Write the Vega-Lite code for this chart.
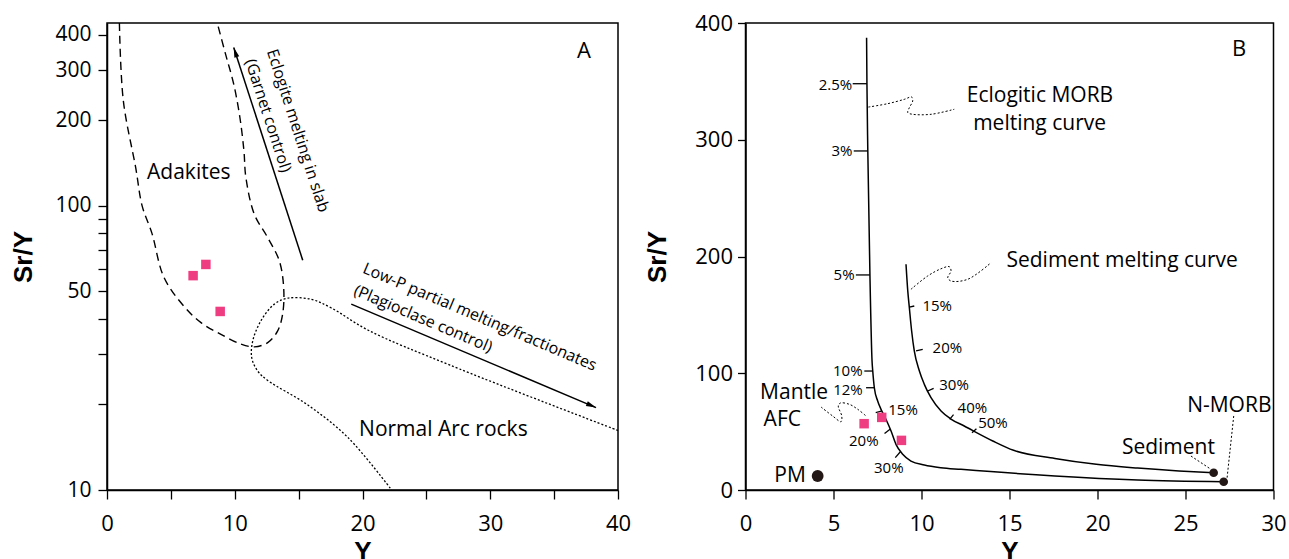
{
  "$schema": "https://vega.github.io/schema/vega-lite/v6.json",
  "padding": {"left": 10, "top": 11, "right": 0, "bottom": 0},
  "background": "white",
  "bounds": "flush",
  "spacing": 127.5,
  "config": {
    "view": {"stroke": "black", "strokeWidth": 1.5},
    "axis": {"grid": false, "domainColor": "black", "domainWidth": 1.5, "tickColor": "black", "tickWidth": 1.3, "labelColor": "black", "labelFont": "Open Sans", "titleFont": "Liberation Sans", "titleFontWeight": "bold", "titleFontSize": 26, "titleColor": "black", "labelFlush": false, "labelOverlap": false},
    "text": {"font": "Open Sans", "color": "black", "baseline": "middle", "align": "center"}
  },
  "datasets": {
    "samples": [{"x": 6.74, "y": 56.8}, {"x": 7.74, "y": 62.2}, {"x": 8.86, "y": 42.5}],
    "adakite": [
      {"o": 1, "x": 0.97, "y": 440}, {"o": 2, "x": 1.28, "y": 234}, {"o": 3, "x": 2.25, "y": 136}, {"o": 4, "x": 2.75, "y": 100},
      {"o": 5, "x": 3.52, "y": 80}, {"o": 6, "x": 4.46, "y": 56}, {"o": 7, "x": 6.08, "y": 44}, {"o": 8, "x": 7.36, "y": 38.8},
      {"o": 9, "x": 8.92, "y": 35.3}, {"o": 10, "x": 10.49, "y": 32.6}, {"o": 11, "x": 11.53, "y": 31.9}, {"o": 12, "x": 12.58, "y": 33.0},
      {"o": 13, "x": 13.36, "y": 36.3}, {"o": 14, "x": 13.75, "y": 41.6}, {"o": 15, "x": 13.83, "y": 51.5}, {"o": 16, "x": 13.49, "y": 64.0},
      {"o": 17, "x": 12.58, "y": 77.3}, {"o": 18, "x": 11.53, "y": 93.5}, {"o": 19, "x": 10.87, "y": 126}, {"o": 20, "x": 10.72, "y": 156},
      {"o": 21, "x": 10.40, "y": 205}, {"o": 22, "x": 9.92, "y": 268}, {"o": 23, "x": 9.28, "y": 342}, {"o": 24, "x": 8.63, "y": 440}
    ],
    "arc": [
      {"o": 1, "x": 40, "y": 16.2}, {"o": 2, "x": 26.85, "y": 27.5}, {"o": 3, "x": 20.45, "y": 36.5}, {"o": 4, "x": 17.53, "y": 43.8},
      {"o": 5, "x": 15.97, "y": 46.9}, {"o": 6, "x": 14.15, "y": 47.3}, {"o": 7, "x": 13.10, "y": 45.1}, {"o": 8, "x": 12.05, "y": 39.4},
      {"o": 9, "x": 11.41, "y": 33.5}, {"o": 10, "x": 11.33, "y": 29.2}, {"o": 11, "x": 11.80, "y": 26.2}, {"o": 12, "x": 12.58, "y": 24.3},
      {"o": 13, "x": 15.66, "y": 20.0}, {"o": 14, "x": 18.86, "y": 15.3}, {"o": 15, "x": 22.28, "y": 10}
    ],
    "arrowsA": [
      {"id": "e", "o": 1, "x": 15.32, "y": 64.4}, {"id": "e", "o": 2, "x": 9.92, "y": 360.6},
      {"id": "p", "o": 1, "x": 19.12, "y": 45.1}, {"id": "p", "o": 2, "x": 38.28, "y": 19.5}
    ],
    "headE": [{"x": 9.92, "y": 360.6}],
    "headP": [{"x": 38.28, "y": 19.5}],
    "textA": [{"t": "Adakites", "x": 6.4, "y": 131}, {"t": "Normal Arc rocks", "x": 26.33, "y": 16.2}],
    "letterA": [{"t": "A", "x": 37.34, "y": 351.5}],
    "textE": [{"t": "Eclogite melting in slab", "x": 14.93, "y": 183.7}, {"t": "(Garnet control)", "x": 12.6, "y": 207.5}],
    "textP": [{"t": "Low-P partial melting/fractionates", "x": 29.17, "y": 40.6}, {"t": "(Plagioclase control)", "x": 24.74, "y": 40.0}],
    "morb": [
      {"x": 6.88, "y": 387.4}, {"x": 6.90, "y": 348}, {"x": 6.95, "y": 290}, {"x": 7.07, "y": 184}, {"x": 7.19, "y": 110.5},
      {"x": 7.23, "y": 101.9}, {"x": 7.32, "y": 87.6}, {"x": 7.51, "y": 76.2}, {"x": 7.70, "y": 69.1}, {"x": 7.98, "y": 60.6},
      {"x": 8.27, "y": 50.5}, {"x": 8.55, "y": 39.1}, {"x": 8.93, "y": 30.6}, {"x": 9.40, "y": 24.8}, {"x": 10.16, "y": 21.4},
      {"x": 11.1, "y": 19.1}, {"x": 12.24, "y": 17.7}, {"x": 17.58, "y": 12.0}, {"x": 22.28, "y": 8.57}, {"x": 27.17, "y": 7.1}
    ],
    "sediment": [
      {"x": 9.12, "y": 193.3}, {"x": 9.22, "y": 170.4}, {"x": 9.31, "y": 156.1}, {"x": 9.44, "y": 136.2}, {"x": 9.59, "y": 119.1},
      {"x": 9.88, "y": 101.9}, {"x": 10.16, "y": 90.5}, {"x": 10.54, "y": 79.1}, {"x": 11.11, "y": 67.7}, {"x": 11.65, "y": 61.0},
      {"x": 12.43, "y": 54.8}, {"x": 14.05, "y": 42.0}, {"x": 15.23, "y": 34.0}, {"x": 17.58, "y": 27.0}, {"x": 19.93, "y": 22.0},
      {"x": 22.28, "y": 18.8}, {"x": 24.63, "y": 16.3}, {"x": 26.6, "y": 14.8}
    ],
    "pticks": [
      {"x": 6.09, "y": 348, "x2": 6.90, "y2": 348}, {"x": 6.15, "y": 290.4, "x2": 6.95, "y2": 290.4},
      {"x": 6.27, "y": 184.2, "x2": 7.07, "y2": 184.2}, {"x": 6.75, "y": 101.9, "x2": 7.23, "y2": 101.9},
      {"x": 6.85, "y": 87.6, "x2": 7.32, "y2": 87.6}, {"x": 7.40, "y": 66.2, "x2": 7.72, "y2": 67.5},
      {"x": 7.90, "y": 48.4, "x2": 8.23, "y2": 52.2}, {"x": 8.51, "y": 27.7, "x2": 8.80, "y2": 32.8},
      {"x": 9.31, "y": 156.7, "x2": 9.59, "y2": 157.6}, {"x": 9.69, "y": 119.1, "x2": 10.07, "y2": 120.5},
      {"x": 10.35, "y": 84.8, "x2": 10.69, "y2": 87.1}, {"x": 11.60, "y": 60.5, "x2": 11.82, "y2": 64.5},
      {"x": 12.87, "y": 49.0, "x2": 13.12, "y2": 52.5}
    ],
    "plabels": [
      {"t": "2.5%", "x": 5.11, "y": 347}, {"t": "3%", "x": 5.48, "y": 290.4}, {"t": "5%", "x": 5.60, "y": 184.2},
      {"t": "10%", "x": 5.81, "y": 101.9}, {"t": "12%", "x": 5.82, "y": 85.4}, {"t": "15%", "x": 8.95, "y": 68.3},
      {"t": "20%", "x": 6.72, "y": 42}, {"t": "30%", "x": 8.14, "y": 18.6}, {"t": "15%", "x": 10.89, "y": 157.6},
      {"t": "20%", "x": 11.47, "y": 121.9}, {"t": "30%", "x": 11.85, "y": 89.9}, {"t": "40%", "x": 12.89, "y": 70.0},
      {"t": "50%", "x": 14.06, "y": 57.6}
    ],
    "leaders": [
      {"id": "m", "o": 1, "x": 6.98, "y": 328.0}, {"id": "m", "o": 2, "x": 8.08, "y": 330.9}, {"id": "m", "o": 3, "x": 9.02, "y": 334.6},
      {"id": "m", "o": 4, "x": 9.44, "y": 336.6}, {"id": "m", "o": 5, "x": 9.50, "y": 333.2}, {"id": "m", "o": 6, "x": 9.31, "y": 327.5},
      {"id": "m", "o": 7, "x": 9.22, "y": 323.2}, {"id": "m", "o": 8, "x": 9.50, "y": 321.8}, {"id": "m", "o": 9, "x": 10.54, "y": 321.8},
      {"id": "m", "o": 10, "x": 11.86, "y": 326.1},
      {"id": "s", "o": 1, "x": 9.40, "y": 171.9}, {"id": "s", "o": 2, "x": 10.35, "y": 183.3}, {"id": "s", "o": 3, "x": 11.11, "y": 189.5},
      {"id": "s", "o": 4, "x": 11.58, "y": 191.3}, {"id": "s", "o": 5, "x": 11.68, "y": 187.6}, {"id": "s", "o": 6, "x": 11.49, "y": 181.8},
      {"id": "s", "o": 7, "x": 11.68, "y": 179.0}, {"id": "s", "o": 8, "x": 12.63, "y": 180.5}, {"id": "s", "o": 9, "x": 13.95, "y": 194.7},
      {"id": "a", "o": 1, "x": 4.29, "y": 71.1}, {"id": "a", "o": 2, "x": 4.95, "y": 63.4}, {"id": "a", "o": 3, "x": 5.43, "y": 58.5},
      {"id": "a", "o": 4, "x": 5.47, "y": 63.4}, {"id": "a", "o": 5, "x": 5.27, "y": 71.9}, {"id": "a", "o": 6, "x": 5.39, "y": 74.5},
      {"id": "a", "o": 7, "x": 5.90, "y": 73.4}, {"id": "a", "o": 8, "x": 6.38, "y": 69.1}, {"id": "a", "o": 9, "x": 6.85, "y": 63.4},
      {"id": "d", "o": 1, "x": 25.31, "y": 29.1}, {"id": "d", "o": 2, "x": 26.45, "y": 17.7},
      {"id": "n", "o": 1, "x": 27.74, "y": 63.4}, {"id": "n", "o": 2, "x": 27.36, "y": 10.0}
    ],
    "endSmall": [{"x": 26.6, "y": 14.8}, {"x": 27.17, "y": 7.1}],
    "endPM": [{"x": 4.10, "y": 12.0}],
    "textB": [
      {"t": "Eclogitic MORB", "x": 16.73, "y": 337.5}, {"t": "melting curve", "x": 16.71, "y": 313.2},
      {"t": "Sediment melting curve", "x": 21.4, "y": 196.1}, {"t": "Mantle", "x": 2.76, "y": 83.4},
      {"t": "AFC", "x": 2.09, "y": 59.7}, {"t": "PM", "x": 2.53, "y": 12.0}, {"t": "N-MORB", "x": 27.49, "y": 71.9},
      {"t": "Sediment", "x": 24.03, "y": 36.2}
    ],
    "letterB": [{"t": "B", "x": 28.04, "y": 377.5}]
  },
  "hconcat": [
    {
      "width": 511,
      "height": 467,
      "encoding": {
        "x": {"field": "x", "type": "quantitative", "scale": {"domain": [0, 40], "nice": false, "zero": false},
          "axis": {"title": "Y", "values": [0, 5, 10, 15, 20, 25, 30, 35, 40], "labelExpr": "datum.value % 10 === 0 ? datum.label : ''", "labelFontSize": 22, "tickSize": 9, "labelPadding": 14, "titlePadding": 4}},
        "y": {"field": "y", "type": "quantitative", "scale": {"type": "log", "domain": [10, 440], "nice": false},
          "axis": {"title": "Sr/Y", "values": [10, 20, 30, 40, 50, 60, 70, 80, 90, 100, 200, 300, 400], "format": "d", "labelExpr": "indexof([10, 50, 100, 200, 300, 400], datum.value) >= 0 ? datum.label : ''", "labelFontSize": 21, "tickSize": 9, "labelPadding": 7, "titlePadding": 18}}
      },
      "layer": [
        {"data": {"name": "adakite"}, "mark": {"type": "line", "color": "black", "strokeWidth": 1.4, "strokeDash": [8, 5], "interpolate": "catmull-rom", "clip": true}, "encoding": {"order": {"field": "o", "type": "quantitative"}}},
        {"data": {"name": "arc"}, "mark": {"type": "line", "color": "black", "strokeWidth": 1.3, "strokeDash": [2, 2], "interpolate": "catmull-rom", "clip": true}, "encoding": {"order": {"field": "o", "type": "quantitative"}}},
        {"data": {"name": "arrowsA"}, "mark": {"type": "line", "color": "black", "strokeWidth": 1.5}, "encoding": {"detail": {"field": "id"}, "order": {"field": "o", "type": "quantitative"}}},
        {"data": {"name": "headE"}, "mark": {"type": "point", "shape": "M0,0L-0.32,1.25L0.32,1.25Z", "angle": -18, "size": 256, "filled": true, "color": "black", "opacity": 1}},
        {"data": {"name": "headP"}, "mark": {"type": "point", "shape": "M0,0L-0.32,1.25L0.32,1.25Z", "angle": 112.9, "size": 256, "filled": true, "color": "black", "opacity": 1}},
        {"data": {"name": "samples"}, "mark": {"type": "square", "size": 90, "color": "#ef3d82", "opacity": 1}},
        {"data": {"name": "textA"}, "mark": {"type": "text", "fontSize": 21}, "encoding": {"text": {"field": "t"}}},
        {"data": {"name": "letterA"}, "mark": {"type": "text", "fontSize": 22}, "encoding": {"text": {"field": "t"}}},
        {"data": {"name": "textE"}, "mark": {"type": "text", "fontSize": 16, "angle": 72}, "encoding": {"text": {"field": "t"}}},
        {"data": {"name": "textP"}, "mark": {"type": "text", "fontSize": 16, "angle": 23}, "encoding": {"text": {"field": "t"}}}
      ]
    },
    {
      "width": 528,
      "height": 467,
      "encoding": {
        "x": {"field": "x", "type": "quantitative", "scale": {"domain": [0, 30], "nice": false, "zero": false},
          "axis": {"title": "Y", "values": [0, 5, 10, 15, 20, 25, 30], "labelFontSize": 22, "tickSize": 9, "labelPadding": 14, "titlePadding": 4}},
        "y": {"field": "y", "type": "quantitative", "scale": {"domain": [0, 400], "nice": false},
          "axis": {"title": "Sr/Y", "values": [0, 100, 200, 300, 400], "labelFontSize": 22, "tickSize": 8, "labelPadding": 5, "titlePadding": 24}}
      },
      "layer": [
        {"data": {"name": "morb"}, "mark": {"type": "line", "color": "black", "strokeWidth": 1.5, "interpolate": "monotone"}},
        {"data": {"name": "sediment"}, "mark": {"type": "line", "color": "black", "strokeWidth": 1.5, "interpolate": "monotone"}},
        {"data": {"name": "pticks"}, "mark": {"type": "rule", "color": "black", "strokeWidth": 1.3}, "encoding": {"x2": {"field": "x2"}, "y2": {"field": "y2"}}},
        {"data": {"name": "leaders"}, "mark": {"type": "line", "color": "black", "strokeWidth": 1, "strokeDash": [2, 2], "interpolate": "catmull-rom"}, "encoding": {"detail": {"field": "id"}, "order": {"field": "o", "type": "quantitative"}}},
        {"data": {"name": "endSmall"}, "mark": {"type": "circle", "size": 75, "color": "#231815", "opacity": 1}},
        {"data": {"name": "endPM"}, "mark": {"type": "circle", "size": 140, "color": "#231815", "opacity": 1}},
        {"data": {"name": "samples"}, "mark": {"type": "square", "size": 90, "color": "#ef3d82", "opacity": 1}},
        {"data": {"name": "plabels"}, "mark": {"type": "text", "fontSize": 15}, "encoding": {"text": {"field": "t"}}},
        {"data": {"name": "textB"}, "mark": {"type": "text", "fontSize": 21}, "encoding": {"text": {"field": "t"}}},
        {"data": {"name": "letterB"}, "mark": {"type": "text", "fontSize": 22}, "encoding": {"text": {"field": "t"}}}
      ]
    }
  ]
}
